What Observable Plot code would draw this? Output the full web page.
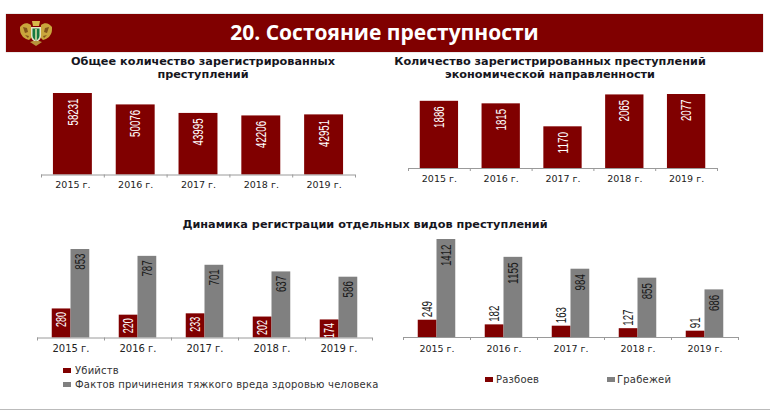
<!DOCTYPE html>
<html><head><meta charset="utf-8">
<script src="https://cdn.jsdelivr.net/npm/d3@7"></script>
<script src="https://cdn.jsdelivr.net/npm/@observablehq/plot@0.6"></script>
<style>
html,body{margin:0;padding:0;background:#fff}
#page{position:relative;width:770px;height:410px;overflow:hidden;font-family:"DejaVu Sans",sans-serif}
#banner{position:absolute;left:6px;top:14px;width:757px;height:38px;background:#800000;box-shadow:0 0 1px #888}
#banner .t{position:absolute;left:0;right:0;top:4px;text-align:center;color:#fff;font:700 21px "Open Sans",sans-serif}
#emblem{position:absolute;left:13px;top:5px}
.h{position:absolute;text-align:center;font-weight:700;font-size:11.25px;line-height:13px;color:#16161e;white-space:nowrap}
.plot{position:absolute}
.plot svg{display:block}
.leg{position:absolute;font-size:10px;color:#333;white-space:nowrap;letter-spacing:.2px}
.leg i{display:inline-block;width:8px;height:5px;margin-right:4px;vertical-align:1px}
#foot{position:absolute;left:0;right:0;top:409px;height:1px;background:#bbb}
</style></head><body>
<div id="page">
  <div id="banner">
    <svg id="emblem" width="34" height="28" viewBox="0 0 34 28">
      <path d="M12 6C8 3 4 4 1 8c0 3 0 5 1 7l2 3 3 2 3 1 3-3zM22 6c4-3 8-2 11 2 0 3 0 5-1 7l-2 3-3 2-3 1-3-3z" fill="#c9a63c"/>
      <path d="M4 8l4 1 1 4-3 1zM30 8l-4 1-1 4 3 1zM6 16l4 1-1 2zM28 16l-4 1 1 2z" fill="#6b3a10" opacity=".75"/>
      <path d="M13 2h8l-1 5h-6z" fill="#d8b94a"/>
      <path d="M12 8h10v9c0 3-2 5-5 6-3-1-5-3-5-6z" fill="#e9e4c4"/>
      <path d="M13.5 9.5h7v7c0 2.500-1.500 4-3.500 5-2-1-3.500-2.500-3.500-5z" fill="#15793f"/>
      <path d="M16.300 10h1.400v11h-1.400z" fill="#f0e8b0"/>
      <path d="M11 23l6 4 6-4-3-1h-6z" fill="#b8923a"/>
    </svg>
    <div class="t">20. Состояние преступности</div>
  </div>
  <div class="h" style="left:40px;width:326px;top:55px">Общее количество зарегистрированных<br>преступлений</div>
  <div class="h" style="left:385px;width:330px;top:55px">Количество зарегистрированных преступлений<br>экономической направленности</div>
  <div class="h" style="left:130px;width:470px;top:218px">Динамика регистрации отдельных видов преступлений</div>
  <div class="leg" style="left:63px;top:365px"><i style="background:#800000"></i>Убийств</div>
  <div class="leg" style="left:63px;top:379px"><i style="background:#808080"></i>Фактов причинения тяжкого вреда здоровью человека</div>
  <div class="leg" style="left:485px;top:374px"><i style="background:#800000;margin-right:3px"></i>Разбоев</div>
  <div class="leg" style="left:607px;top:374px"><i style="background:#808080;margin-right:2px"></i>Грабежей</div>
  <div id="foot"></div>
</div>
<script>
const years = ["2015 г.","2016 г.","2017 г.","2018 г.","2019 г."];
const totalCrimes = [58231,50076,43995,42206,42951];
const economicCrimes = [1886,1815,1170,2065,2077];
const murders = [280,220,233,202,174];
const grievousHarm = [853,787,701,637,586];
const robberies = [249,182,163,127,91];
const thefts = [1412,1155,984,855,686];

const RED = "#800000", GREY = "#808080";
const page = document.getElementById("page");

function panel({left, top, axisWidth, plotH, yMax, series, tickFont, tickPadding}) {
  const mb = 30, mt = 22;
  const marks = [];
  series.forEach((s,k)=>{
    const rows = s.values.map((v,i)=>({i,v}));
    marks.push(Plot.rectY(rows,{x1:d=>d.i+s.x0,x2:d=>d.i+s.x1,y1:0,y2:d=>d.v,fill:s.color}));
    marks.push(Plot.text(rows,{
      x:d=>d.i+(s.x0+s.x1)/2, y:d=>d.v, text:d=>String(d.v), rotate:-90,
      textAnchor:s.outside?"start":"end", dy:s.outside?-3:(s.dy??5),
      fill:s.textFill, fontFamily:'"Liberation Sans",sans-serif', fontSize:14.5,
      className:"val"+k
    }));
  });
  marks.push(Plot.ruleY([0],{stroke:"#9a9a9a",strokeWidth:1}));
  marks.push(Plot.ruleX(d3.range(0,6),{x:d=>d,y1:0,y2:-yMax*3/plotH,stroke:"#9a9a9a",strokeWidth:1}));
  marks.push(Plot.axisX(d3.range(5).map(i=>i+0.5),{
    tickSize:0,tickPadding:tickPadding??7,tickFormat:d=>years[Math.floor(d)],
    fontFamily:'"DejaVu Sans",sans-serif',fontSize:tickFont||9.5,fill:"#222",anchor:"bottom"
  }));
  const svg = Plot.plot({
    width:axisWidth+2,height:plotH+mb+mt,
    marginLeft:1,marginRight:1,marginTop:mt,marginBottom:mb,
    style:{background:"transparent",overflow:"visible"},
    x:{type:"linear",domain:[0,5],axis:null},
    y:{type:"linear",domain:[0,yMax],axis:null},
    marks
  });
  // The reference's value labels are condensed: squeeze the glyphs to its digit width.
  series.forEach((s,k)=>svg.querySelectorAll(".val"+k+" text").forEach(t=>{
    t.setAttribute("textLength",(t.textContent.length*(s.digit??5.4)).toFixed(1));
    t.setAttribute("lengthAdjust","spacingAndGlyphs");
  }));
  const w = document.createElement("div");
  w.className="plot"; w.style.left=(left-1)+"px"; w.style.top=(top-mt)+"px";
  w.appendChild(svg); page.appendChild(w);
}
panel({left:41,top:93,axisWidth:314,plotH:81.5,yMax:58231,tickPadding:6,series:[{values:totalCrimes,color:RED,x0:0.19,x1:0.81,textFill:"#fff"}]});
panel({left:408,top:94,axisWidth:309,plotH:74,yMax:2077,series:[{values:economicCrimes,color:RED,x0:0.19,x1:0.81,textFill:"#fff"}]});
panel({left:37,top:249,axisWidth:335,plotH:88.5,yMax:853,tickFont:10,series:[
  {values:murders,color:RED,x0:0.22,x1:0.5,textFill:"#fff",dy:3,digit:5},
  {values:grievousHarm,color:GREY,x0:0.5,x1:0.78,textFill:"#1a1a1a",dy:4}]});
panel({left:403,top:239,axisWidth:335,plotH:98,yMax:1412,tickPadding:8,series:[
  {values:robberies,color:RED,x0:0.22,x1:0.5,textFill:"#1a1a1a",outside:true},
  {values:thefts,color:GREY,x0:0.5,x1:0.78,textFill:"#1a1a1a"}]});
</script>
</body></html>
